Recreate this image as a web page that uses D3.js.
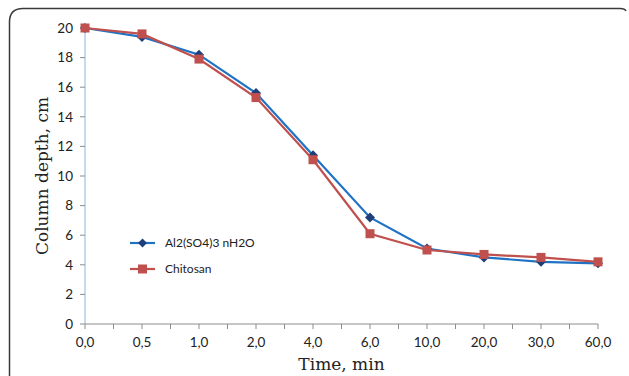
<!DOCTYPE html>
<html>
<head>
<meta charset="utf-8">
<script src="https://cdn.jsdelivr.net/npm/d3@7"></script>
<style>
  html, body { margin: 0; padding: 0; background: #fff; }
  svg { display: block; }
</style>
</head>
<body>
<div id="chart"></div>
<script>
// 两条沉降曲线: 类目 x 轴 (时间) × 柱深
const categories = ["0,0", "0,5", "1,0", "2,0", "4,0", "6,0", "10,0", "20,0", "30,0", "60,0"];
const alumValues = [20, 19.4, 18.2, 15.6, 11.4, 7.2, 5.1, 4.5, 4.2, 4.1];
const chitosanValues = [20, 19.6, 17.9, 15.3, 11.1, 6.1, 5.0, 4.7, 4.5, 4.2];
const yTicks = [0, 2, 4, 6, 8, 10, 12, 14, 16, 18, 20];
const seriesNames = ["Al2(SO4)3 nH2O", "Chitosan"];

const W = 629, H = 376;
const margin = { top: 28, right: 31, bottom: 52, left: 85 };
const iw = W - margin.left - margin.right, ih = H - margin.top - margin.bottom;

const svg = d3.select("#chart").append("svg").attr("width", W).attr("height", H);

// 外框 (左上圆角, 底部被截断)
svg.append("path")
  .attr("d", `M9.5,${H} L9.5,22 Q9.5,8.5 23,8.5 L620,8.5 Q625,8.5 626,11`)
  .attr("fill", "none").attr("stroke", "#3a3a3a").attr("stroke-width", 1.5);

const g = svg.append("g").attr("transform", `translate(${margin.left},${margin.top})`);

const x = d3.scalePoint().domain(categories).range([0, iw]);
const y = d3.scaleLinear().domain([0, 20]).range([ih, 0]);

// x 轴: 类目处及中点都有刻度
const step = x.step();
const gx = g.append("g").attr("transform", `translate(0,${ih})`);
gx.append("line").attr("x1", 0).attr("x2", iw).attr("stroke", "#8c8c8c");
const tickPos = d3.range(0, categories.length * 2 - 1).map(i => i * step / 2);
gx.selectAll("line.tk").data(tickPos).join("line").attr("class", "tk")
  .attr("x1", d => d).attr("x2", d => d).attr("y1", 0).attr("y2", 5).attr("stroke", "#8c8c8c");
gx.selectAll("text").data(categories).join("text")
  .attr("x", d => x(d)).attr("y", 23).attr("text-anchor", "middle")
  .attr("font-family", "Lato, 'Open Sans', sans-serif").attr("font-size", 13.5).attr("fill", "#222")
  .text(d => d);

// y 轴
const gy = g.append("g");
gy.append("line").attr("x1", 0).attr("x2", 0).attr("y1", 0).attr("y2", ih).attr("stroke", "#8fb3de");
gy.selectAll("line.tk").data(yTicks).join("line").attr("class", "tk")
  .attr("x1", -5).attr("x2", 0).attr("y1", d => y(d)).attr("y2", d => y(d)).attr("stroke", "#8c8c8c");
gy.selectAll("text").data(yTicks).join("text")
  .attr("x", -12).attr("y", d => y(d)).attr("dy", "0.35em").attr("text-anchor", "end")
  .attr("font-family", "Lato, 'Open Sans', sans-serif").attr("font-size", 13.5).attr("fill", "#222")
  .text(d => d);

// 轴标题
svg.append("text").attr("transform", `translate(48,${margin.top + ih / 2}) rotate(-90)`)
  .attr("text-anchor", "middle").attr("font-family", "'DejaVu Serif', serif").attr("font-size", 17)
  .attr("fill", "#222").text("Column depth, cm");
svg.append("text").attr("x", margin.left + iw / 2).attr("y", 370)
  .attr("text-anchor", "middle").attr("font-family", "'DejaVu Serif', serif").attr("font-size", 17)
  .attr("fill", "#222").text("Time, min");

const line = d3.line().x((d, i) => x(categories[i])).y(d => y(d));
const blueLine = "#1f72c4", blueMark = "#1f3f78", red = "#c0504d";

function diamond(sel, s) {
  sel.attr("d", `M0,${-s} L${s},0 L0,${s} L${-s},0 Z`);
}

// Al2(SO4)3 系列
g.append("path").datum(alumValues).attr("d", line).attr("fill", "none")
  .attr("stroke", blueLine).attr("stroke-width", 2.2);
g.selectAll("path.dm").data(alumValues).join("path").attr("class", "dm")
  .attr("transform", (d, i) => `translate(${x(categories[i])},${y(d)})`)
  .call(diamond, 5).attr("fill", blueMark);

// Chitosan 系列
g.append("path").datum(chitosanValues).attr("d", line).attr("fill", "none")
  .attr("stroke", red).attr("stroke-width", 2.2);
g.selectAll("rect.sq").data(chitosanValues).join("rect").attr("class", "sq")
  .attr("x", (d, i) => x(categories[i]) - 4.5).attr("y", d => y(d) - 4.5)
  .attr("width", 9).attr("height", 9).attr("fill", red);

// 图例
const lg = svg.append("g").attr("transform", "translate(130,243)");
const items = [
  { name: seriesNames[0], color: blueLine, mark: "diamond" },
  { name: seriesNames[1], color: red, mark: "square" },
];
items.forEach((it, i) => {
  const row = lg.append("g").attr("transform", `translate(0,${i * 26})`);
  row.append("line").attr("x1", 0).attr("x2", 25).attr("stroke", it.color).attr("stroke-width", 2.2);
  if (it.mark === "diamond") row.append("path").attr("transform", "translate(12.5,0)").call(diamond, 4.5).attr("fill", blueMark);
  else row.append("rect").attr("x", 8).attr("y", -4.5).attr("width", 9).attr("height", 9).attr("fill", red);
  row.append("text").attr("x", 35).attr("dy", "0.35em")
    .attr("font-family", "Lato, 'Open Sans', sans-serif").attr("font-size", 12).attr("fill", "#222")
    .text(it.name);
});
</script>
</body>
</html>
